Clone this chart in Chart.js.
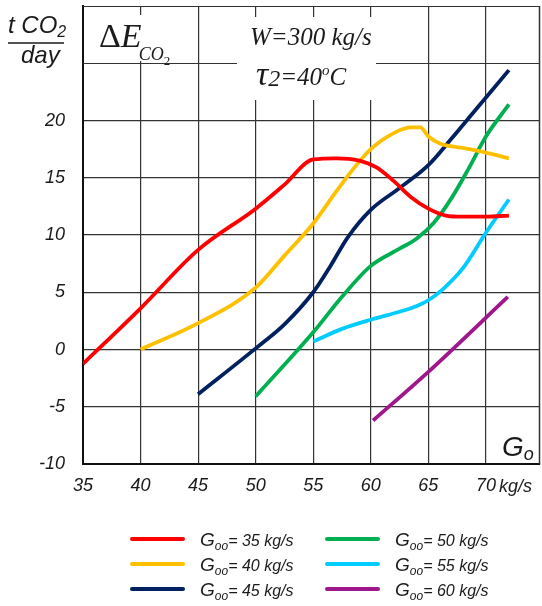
<!DOCTYPE html>
<html>
<head>
<meta charset="utf-8">
<script src="https://cdn.jsdelivr.net/npm/chart.js@4.4.1/dist/chart.umd.min.js"></script>
<style>
  html, body { margin: 0; padding: 0; background: #fff; }
  #wrap { width: 542px; height: 606px; }
</style>
</head>
<body>
<div id="wrap"><canvas id="co2Chart" width="542" height="606"></canvas></div>
<script>
// G_oo values of the six curves
var gooLabels = ["35", "40", "45", "50", "55", "60"];
var colors = ["#ff0000", "#ffc000", "#002060", "#00b050", "#00ccff", "#a0178c"];

// [G_o, dE] points
var goo35 = [[35,-1.25],[40,3.6],[45,8.7],[50,12.3],[52.5,14.4],[55,16.6],[57,16.7],[59,16.5],[60.5,15.9],[62,14.7],[63.5,13.3],[65,12.3],[66.5,11.7],[68,11.6],[70,11.6],[72,11.7]];
var goo40 = [[40,0],[45,2.3],[50,5.4],[52.5,8.2],[55,11.0],[57,13.8],[58.5,15.8],[60,17.5],[62,18.9],[63.5,19.4],[64.3,19.4],[65,18.6],[66,18],[68,17.6],[70,17.2],[72,16.7]];
var goo45 = [[45,-3.9],[50,0.1],[52.5,2.2],[55,5.0],[56.5,7.3],[58,9.8],[60,12.2],[62.5,14.1],[65,16.1],[67,18.4],[69,20.8],[72,24.4]];
var goo50 = [[50,-4.1],[55,1.5],[57.5,4.6],[60,7.3],[62.5,8.8],[64,9.7],[65.5,11.1],[67,13.2],[68.5,15.8],[70,18.6],[72,21.4]];
var goo55 = [[55,0.7],[57.5,1.8],[60,2.6],[62.5,3.3],[64,3.8],[65,4.3],[66.3,5.3],[68,7.1],[70,10.2],[72,13.1]];
var goo60 = [[60.2,-6.2],[65,-1.95],[71.9,4.6]];
var series = [goo35, goo40, goo45, goo50, goo55, goo60];

var xTicks = [35, 40, 45, 50, 55, 60, 65, 70];
var yTicks = [-10, -5, 0, 5, 10, 15, 20];
var yExtraGrid = [25, 30];

var sans = "'Liberation Sans', Arial, sans-serif";
var serif = "'Liberation Serif', 'Times New Roman', serif";

function runs(ctx, x, y, parts) {
    parts.forEach(function (p) {
        ctx.font = p.f;
        ctx.fillText(p.t, x, y + (p.dy || 0));
        x += ctx.measureText(p.t).width + (p.dx || 0);
    });
    return x;
}

function noPad(s) {
    s.paddingTop = 0;
    s.paddingBottom = 0;
    s.paddingLeft = 0;
    s.paddingRight = 0;
}

var decor = {
    id: "decor",
    beforeDatasetsDraw: function (chart) {
        var ctx = chart.ctx, a = chart.chartArea, ys = chart.scales.y;
        ctx.save();
        // upper grid lines (no labels there)
        ctx.strokeStyle = "#333";
        ctx.lineWidth = 1.2;
        yExtraGrid.forEach(function (v) {
            var py = Math.round(ys.getPixelForValue(v)) + 0.5;
            ctx.beginPath();
            ctx.moveTo(a.left, py);
            ctx.lineTo(a.right, py);
            ctx.stroke();
        });
        // right border
        ctx.lineWidth = 1.5;
        ctx.beginPath();
        ctx.moveTo(a.right - 0.5, a.top);
        ctx.lineTo(a.right - 0.5, a.bottom);
        ctx.stroke();
        // white boxes behind the annotations
        ctx.fillStyle = "#fff";
        ctx.fillRect(88, 15, 104, 46);
        ctx.fillRect(237, 17, 139, 83);
        ctx.restore();
    },
    afterDraw: function (chart) {
        var ctx = chart.ctx;
        ctx.save();
        ctx.fillStyle = "#1a1a1a";
        ctx.textAlign = "left";
        ctx.textBaseline = "alphabetic";

        // y axis title
        runs(ctx, 8, 33, [{t: "t CO", f: "italic 24px " + sans}, {t: "2", f: "italic 16px " + sans, dy: 4}]);
        ctx.strokeStyle = "#1a1a1a";
        ctx.lineWidth = 1.5;
        ctx.beginPath();
        ctx.moveTo(8, 43);
        ctx.lineTo(64, 43);
        ctx.stroke();
        runs(ctx, 21, 63, [{t: "day", f: "italic 24px " + sans}]);

        // Delta E CO2
        var x = runs(ctx, 99, 47, [{t: "\u0394", f: "34px " + serif}, {t: "E", f: "italic 34px " + serif}]);
        x = runs(ctx, x - 3, 60, [{t: "CO", f: "italic 18px " + serif}]);
        runs(ctx, x, 65, [{t: "2", f: "13px " + serif}]);

        // W and tau
        runs(ctx, 250, 45, [{t: "W=300 kg/s", f: "italic 25px " + serif}]);
        runs(ctx, 256, 85, [
            {t: "\u03c4", f: "italic 34px " + serif},
            {t: "2", f: "italic 24px " + serif, dy: 1},
            {t: "=40", f: "italic 25px " + serif},
            {t: "o", f: "italic 15px " + serif, dy: -10},
            {t: "C", f: "italic 25px " + serif}
        ]);

        // x axis title
        runs(ctx, 502, 456, [{t: "G", f: "italic 28px " + sans}, {t: "o", f: "italic 18px " + sans, dy: 4}]);
        runs(ctx, 499, 492, [{t: "kg/s", f: "italic 18px " + sans}]);

        // legend
        var lx = [132, 327], tx = [200, 395], ly = [539, 564, 589];
        chart.data.datasets.forEach(function (ds, i) {
            var col = i < 3 ? 0 : 1, row = i % 3;
            ctx.strokeStyle = ds.borderColor;
            ctx.lineWidth = 4;
            ctx.lineCap = "round";
            ctx.beginPath();
            ctx.moveTo(lx[col], ly[row]);
            ctx.lineTo(lx[col] + 51, ly[row]);
            ctx.stroke();
            runs(ctx, tx[col], ly[row] + 7, [
                {t: "G", f: "italic 19px " + sans},
                {t: "oo", f: "italic 12px " + sans, dy: 4},
                {t: "= " + gooLabels[i] + " kg/s", f: "italic 16px " + sans}
            ]);
        });
        ctx.restore();
    }
};

var ctx = document.getElementById("co2Chart").getContext("2d");
var co2Chart = new Chart(ctx, {
    type: "line",
    data: {
        datasets: series.map(function (pts, i) {
            return {
                label: "Goo= " + gooLabels[i] + " kg/s",
                data: pts.map(function (p) { return {x: p[0], y: p[1]}; }),
                borderColor: colors[i],
                borderWidth: 3.8,
                pointRadius: 0,
                cubicInterpolationMode: "monotone",
                fill: false
            };
        })
    },
    options: {
        responsive: false,
        animation: false,
        layout: {padding: {top: 6, right: 2, left: 0, bottom: 0}},
        plugins: {legend: {display: false}, tooltip: {enabled: false}},
        scales: {
            x: {
                type: "linear",
                min: 35,
                max: 74.7,
                afterFit: function (s) { s.height = 142; noPad(s); },
                afterBuildTicks: function (s) { s.ticks = xTicks.map(function (v) { return {value: v}; }); },
                grid: {color: "#333", lineWidth: 1.2, drawTicks: false},
                border: {color: "#111", width: 2},
                ticks: {
                    padding: 11,
                    color: "#1a1a1a",
                    font: {family: sans, size: 18, style: "italic"}
                }
            },
            y: {
                min: -10,
                max: 30,
                afterFit: function (s) { s.width = 83; noPad(s); },
                afterBuildTicks: function (s) { s.ticks = yTicks.map(function (v) { return {value: v}; }); },
                grid: {color: "#333", lineWidth: 1.2, drawTicks: false},
                border: {color: "#111", width: 2},
                ticks: {
                    padding: 18,
                    color: "#1a1a1a",
                    font: {family: sans, size: 18, style: "italic"}
                }
            }
        }
    },
    plugins: [decor]
});
co2Chart.render();
</script>
</body>
</html>
